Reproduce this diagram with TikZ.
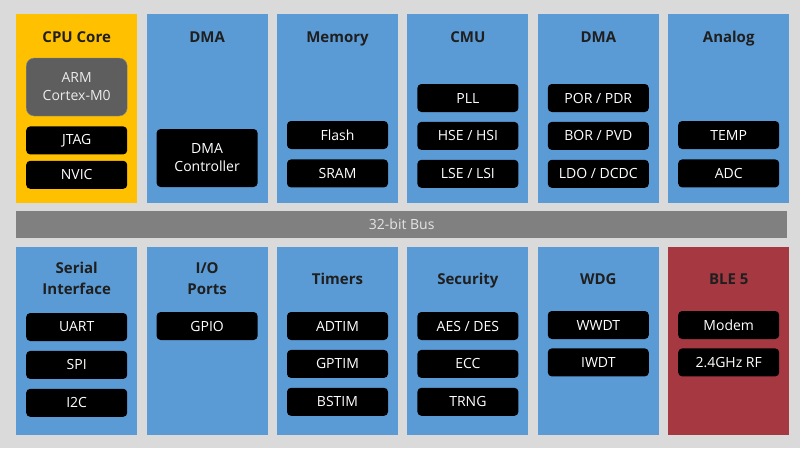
\documentclass[tikz,border=0pt]{standalone}
\usepackage{fontspec}
\setmainfont{Open Sans}
\usepackage{xcolor}
\usetikzlibrary{positioning}
\definecolor{bgGray}{HTML}{DADADA}
\definecolor{panelBlue}{HTML}{5B9BD5}
\definecolor{panelGold}{HTML}{FFC000}
\definecolor{panelRed}{HTML}{A63842}
\definecolor{busGray}{HTML}{808080}
\definecolor{armGray}{HTML}{5E5E5E}

\begin{document}
\begin{tikzpicture}[x=1pt, y=-1pt, panel/.style={fill=panelBlue, minimum width=121pt, minimum height=189pt, inner sep=0pt, anchor=north west}, title/.style={font=\fontsize{15}{21}\selectfont\bfseries, align=center, text=black!88, anchor=base}, block/.style={fill=black, text=white, rounded corners=4pt, minimum width=101pt, minimum height=28pt, inner sep=0pt, align=center, font=\fontsize{14}{18}\selectfont}]
\fill[bgGray] (0,0) rectangle (800,448);
% top row
\node[panel, fill=panelGold] (cpu) at (16,14) {};
\node[panel, right=9pt of cpu] (dma) {};
\node[panel, right=9pt of dma] (mem) {};
\node[panel, right=9pt of mem] (cmu) {};
\node[panel, right=9pt of cmu] (pwr) {};
\node[panel, right=9pt of pwr] (ana) {};
% bus
\node[fill=busGray, anchor=north west, minimum width=771pt, minimum height=27pt, inner sep=0pt, text=white!90!black, font=\fontsize{14}{16}\selectfont] (bus) at (16,211) {32-bit Bus};
% bottom row
\node[panel, minimum height=188pt] (ser) at (16,247) {};
\node[panel, minimum height=188pt, right=9pt of ser] (io) {};
\node[panel, minimum height=188pt, right=9pt of io] (tim) {};
\node[panel, minimum height=188pt, right=9pt of tim] (sec) {};
\node[panel, minimum height=188pt, right=9pt of sec] (wdg) {};
\node[panel, minimum height=188pt, fill=panelRed, right=9pt of wdg] (ble) {};
% titles
\node[title] (cpuT) at (cpu.north |- 0,42) {CPU Core};
\node[title] (dmaT) at (dma.north |- 0,42) {DMA};
\node[title] (memT) at (mem.north |- 0,42) {Memory};
\node[title] (cmuT) at (cmu.north |- 0,42) {CMU};
\node[title] (pwrT) at (pwr.north |- 0,42) {DMA};
\node[title] (anaT) at (ana.north |- 0,42) {Analog};
\node[title] (serT) at (ser.north |- 0,294) {Serial\\Interface};
\node[title] (ioT) at (io.north |- 0,294) {I/O\\Ports};
\node[title] (timT) at (tim.north |- 0,284) {Timers};
\node[title] (secT) at (sec.north |- 0,284) {Security};
\node[title] (wdgT) at (wdg.north |- 0,284) {WDG};
\node[title] (bleT) at (ble.north |- 0,284) {BLE 5};
% CPU core
\node[block, fill=armGray, draw=white!55!black, rounded corners=8pt, minimum height=58pt, text=white!92!black] (arm) at (cpu.north |- 0,87) {ARM\\Cortex-M0};
\node[block, below=10pt of arm] (jtag) {JTAG};
\node[block, below=6pt of jtag] (nvic) {NVIC};
% DMA
\node[block, minimum height=58pt] (dmac) at (dma.north |- 0,158) {DMA\\Controller};
% memory
\node[block] (flash) at (mem.north |- 0,135) {Flash};
\node[block, below=10pt of flash] (sram) {SRAM};
% clocks
\node[block] (pll) at (cmu.north |- 0,98) {PLL};
\node[block, below=9.5pt of pll] (hse) {HSE / HSI};
\node[block, below=9.5pt of hse] (lse) {LSE / LSI};
% power
\node[block] (por) at (pwr.north |- 0,98) {POR / PDR};
\node[block, below=9.5pt of por] (bor) {BOR / PVD};
\node[block, below=9.5pt of bor] (ldo) {LDO / DCDC};
% analog
\node[block] (temp) at (ana.north |- 0,135) {TEMP};
\node[block, below=10pt of temp] (adc) {ADC};
% serial
\node[block] (uart) at (ser.north |- 0,327) {UART};
\node[block, below=9.5pt of uart] (spi) {SPI};
\node[block, below=9.5pt of spi] (iic) {I2C};
% io
\node[block] (gpio) at (io.north |- 0,326) {GPIO};
% timers
\node[block] (adtim) at (tim.north |- 0,326) {ADTIM};
\node[block, below=9.5pt of adtim] (gptim) {GPTIM};
\node[block, below=9.5pt of gptim] (bstim) {BSTIM};
% security
\node[block] (aes) at (sec.north |- 0,326) {AES / DES};
\node[block, below=9.5pt of aes] (ecc) {ECC};
\node[block, below=9.5pt of ecc] (trng) {TRNG};
% watchdog
\node[block] (wwdt) at (wdg.north |- 0,325) {WWDT};
\node[block, below=9pt of wwdt] (iwdt) {IWDT};
% ble
\node[block] (modem) at (ble.north |- 0,325) {Modem};
\node[block, below=9pt of modem] (rf) {2.4GHz RF};
\end{tikzpicture}
\end{document}
